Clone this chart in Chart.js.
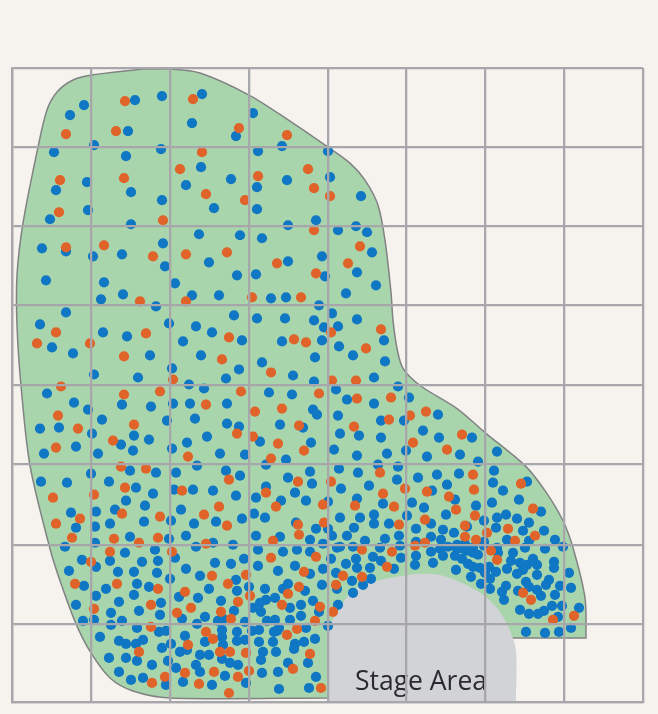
<!DOCTYPE html>
<html>
<head>
<meta charset="utf-8">
<title>Seating map</title>
<script src="https://cdn.jsdelivr.net/npm/chart.js@4/dist/chart.umd.min.js"></script>
<style>
  html, body { margin: 0; padding: 0; background: #f6f3ef; }
  canvas { display: block; }
</style>
</head>
<body>
<canvas id="seatChart" width="658" height="714"></canvas>
<script>
// seat positions, origin at the bottom left of the grid
const blueSeats = [
  [72,596],[58,586],[123,601],[150,605],[190,607],[180,578],[116,570],[82,556],[42,549],[114,545],[149,552],[189,534],[174,516],[75,519],[44,511],[119,509],[150,501],[76,491],[38,482],[119,477],
  [241,588],[224,565],[246,550],[270,555],[316,550],[219,522],[245,514],[275,521],[318,524],[349,505],[202,493],[245,492],[276,476],[304,481],[326,471],[344,475],[355,469],
  [30,453],[54,450],[81,445],[110,447],[151,458],[187,467],[153,435],[197,439],[34,421],[92,419],[163,418],[89,402],[111,407],[180,406],[144,395],[54,389],[28,377],[157,378],[184,375],[91,369],[115,365],[171,360],[40,354],[61,348],[138,346],[189,346],[200,369],[82,327],[160,333],[126,324],[177,317],[192,313],[35,308],
  [228,466],[250,463],[360,449],[310,445],[276,440],[225,426],[244,427],[313,425],[345,429],[364,416],[334,408],[207,406],[259,403],[274,404],[307,396],[320,388],[222,386],[245,383],[273,383],[302,381],[345,382],[326,375],[312,374],[230,361],[270,360],[310,361],[372,361],[327,355],[341,346],[303,344],[373,340],[250,339],[227,332],[214,323],[281,326],[302,320],[362,324],[386,315],[257,309],[280,307],[324,312],[397,304],
  [62,299],[76,292],[110,297],[139,295],[161,298],[178,298],[90,282],[155,281],[183,283],[28,273],[47,274],[80,268],[122,266],[137,262],[195,265],[109,257],[175,259],[121,251],[160,253],[64,255],[32,248],[86,248],[185,236],[118,231],[144,229],[164,229],[79,228],[29,220],[55,219],[97,220],[124,214],[162,212],[181,212],[141,208],[114,201],[133,196],[169,192],[103,192],[84,190],[59,189],[159,181],[132,180],[182,178],[98,178],[64,174],[83,175],[118,165],[174,166],[157,163],[83,159],[53,155],[184,155],[143,152],[113,149],
  [335,302],[362,298],[215,298],[301,292],[305,287],[326,286],[369,281],[215,278],[227,275],[268,277],[291,274],[328,268],[347,266],[369,264],[248,260],[299,259],[322,252],[345,246],[375,248],[208,248],[233,247],[274,242],[254,237],[366,237],[386,235],[327,233],[346,229],[214,231],[228,226],[298,230],[276,224],[300,218],[385,222],[254,215],[329,213],[357,216],[283,209],[201,211],[224,206],[244,204],[294,201],[269,201],[316,200],[345,203],[371,198],[242,188],[253,184],[204,180],[230,183],[328,184],[348,184],[362,187],[362,178],[377,178],[284,179],[304,173],[316,173],[342,174],[320,166],[335,166],[373,163],[244,166],[268,165],[298,162],[311,158],[353,161],[387,166],[201,159],[221,157],[246,152],[285,152],[328,155],[341,155],[368,154],[388,156],[271,150],
  [426,287],[392,281],[411,271],[427,264],[460,264],[485,250],[394,251],[415,245],[448,247],[466,240],[482,231],[425,227],[447,228],[406,224],[481,219],[515,220],[435,217],[420,211],[491,211],[443,202],[507,202],[400,199],[480,199],[412,194],[464,196],[529,190],[434,187],[395,186],[494,187],[485,184],[472,181],[505,183],[419,178],[517,179],[455,175],[404,173],[431,172],[442,169],[484,174],[511,171],[532,171],[419,165],[543,162],[429,162],[495,162],[404,160],[517,161],[472,160],[551,155],[513,154],[533,153],[485,154],
  [445,157],[453,158],[436,155],[428,153],[461,154],[404,146],[403,137],[419,150],[421,139],[431,146],[443,146],[450,143],[455,151],[461,149],[466,147],[451,153],[445,153],[456,138],[461,135],[468,134],[477,135],[484,130],[478,123],[473,129],[444,132],[459,125],[469,118],[478,113],[472,156],[486,149],[501,149],[499,141],[495,133],[508,139],[515,137],[511,132],[505,128],[521,143],[525,137],[525,127],[542,140],[542,134],[557,129],[537,122],[534,117],[514,120],[517,115],[525,112],[529,106],[548,116],[559,114],[543,107],[494,116],[490,110],[492,102],[506,111],[567,94],[550,96],[540,96],[532,91],[526,88],[517,88],[508,92],[546,85],[559,74],[547,70],[533,69],[514,70],
  [70,142],[84,135],[98,141],[130,140],[146,141],[163,144],[203,139],[219,138],[57,131],[106,130],[122,130],[145,129],[174,133],[188,126],[158,123],[72,116],[125,118],[94,113],[137,115],[197,113],[224,122],[225,111],[84,106],[122,107],[167,105],[186,104],[107,100],[149,99],[209,101],[64,97],[127,91],[99,89],[148,87],[222,91],[193,85],[170,83],[206,81],[211,83],[71,81],[82,82],[110,81],[99,77],[185,78],[125,74],[147,70],[154,71],[210,72],[225,70],[88,65],[173,66],[210,65],[107,61],[114,58],[124,58],[131,62],[193,60],[225,61],[159,58],[211,57],[150,54],[168,50],[175,52],[188,47],[197,47],[97,44],[114,44],[125,41],[210,43],[218,39],[226,37],[156,41],[140,37],[184,37],[164,34],[188,30],[107,30],[213,26],[131,24],[119,22],[171,20],[200,17],[154,17],
  [298,150],[319,143],[334,138],[344,143],[361,145],[369,141],[389,144],[325,154],[232,143],[246,136],[283,136],[266,131],[298,128],[311,133],[345,134],[358,134],[382,133],[324,129],[340,121],[359,123],[351,117],[310,117],[325,113],[237,115],[276,118],[271,113],[293,111],[253,113],[263,104],[341,109],[254,102],[248,99],[301,101],[289,97],[278,94],[241,94],[249,90],[307,90],[326,97],[289,86],[263,82],[255,81],[278,82],[233,80],[316,76],[294,74],[267,74],[265,71],[262,70],[247,72],[240,71],[233,62],[247,60],[261,60],[303,63],[292,60],[283,58],[282,53],[251,50],[264,50],[249,42],[276,39],[296,39],[250,29],[266,30],[304,25],[234,19],[267,13],[297,14]
];

const orangeSeats = [
  [113,600],[181,602],[54,567],[104,570],[190,549],[168,532],[48,521],[112,523],[194,507],[47,489],[151,481],
  [227,573],[275,566],[296,532],[246,525],[302,513],[318,505],[233,501],[302,471],
  [54,454],[92,456],[141,445],[174,447],[128,400],[174,400],[44,369],[134,368],[25,358],[78,358],[112,345],[161,322],[49,315],[112,307],[148,310],
  [348,455],[215,449],[265,438],[336,438],[304,428],[240,404],[289,404],[369,372],[319,369],[217,364],[282,362],[294,359],[354,353],[210,342],[259,329],[320,321],[344,321],[229,310],[307,308],[379,304],
  [194,297],[46,286],[66,273],[122,277],[101,261],[44,254],[176,245],[109,235],[134,233],[113,214],[170,211],[82,207],[41,204],[110,188],[148,185],[68,183],[192,187],[44,178],[60,164],[102,163],[146,164],[127,159],[194,158],[98,150],
  [345,303],[270,293],[243,290],[377,282],[287,276],[342,275],[225,268],[241,265],[266,258],[292,251],[259,243],[368,229],[217,222],[286,220],[319,220],[254,209],[371,208],[343,196],[311,197],[264,195],[382,195],[207,195],[215,176],[286,177],[312,179],[387,177],[287,167],[261,161],[350,152],[380,150],
  [414,290],[398,286],[401,259],[450,267],[435,252],[461,227],[462,212],[393,213],[415,210],[437,205],[509,218],[444,192],[521,193],[463,186],[413,182],[453,176],[475,169],[496,173],[453,165],[523,166],[464,162],[503,161],[413,159],[403,156],[479,151],
  [485,142],[511,109],[519,102],[562,86],[541,82],
  [160,150],[79,140],[200,126],[105,118],[63,118],[216,118],[146,113],[173,110],[226,100],[139,97],[82,93],[179,94],[165,89],[209,90],[219,83],[139,75],[194,70],[201,63],[176,57],[208,50],[218,50],[127,50],[173,29],[202,30],[226,25],[153,25],[140,19],[187,18],[217,9],
  [259,144],[304,145],[375,135],[292,130],[234,127],[331,126],[350,125],[324,117],[287,115],[276,108],[238,106],[270,97],[308,95],[321,90],[303,81],[285,73],[275,67],[234,49],[298,48],[281,33],[237,31],[309,14]
];

const seatingOutline = [
  [131,632],[158,632],[188,628],[237,606],[278,580],[316,554],[338,538],[353,521],[366,496],[373,461],[379,409],[381,381],[385,353],[391,333],[408,316],[445,293],[473,269],[513,236],[533,211],[551,181],[561,154],[573,104],[574,64],[574,64],
  [501,64],[501,64],[316,4],[316,4],[158,4],[121,11],[98,24],[79,49],[64,78],[48,121],[38,153],[18,236],[9,316],[5,376],[5,426],[11,478],[26,554],[35,591],[45,609],[61,621],[80,626],[131,632]
];

const stageOutline = [
  [316,0],[316,0],[316,40],[316,71],[325,89],[341,111],[365,121],[391,126],[408,128],[431,126],[465,111],[485,94],[498,71],[504,51],[504,0],[504,0]
];

const stageLabel = 'Stage Area';
const stageLabelPos = [409, 12];
const xTicks = [0, 79, 158, 237, 316, 394, 473, 552, 631];
const yTicks = [0, 78, 157, 237, 316, 396, 475, 554, 633];

const GRID = '#a7a7ab';
const toPoints = list => list.map(([x, y]) => ({ x, y }));

// label sits above the shapes but under the grid lines
const labelPlugin = {
  id: 'stageLabel',
  afterDatasetsDraw(chart) {
    const { ctx, scales } = chart;
    ctx.save();
    ctx.font = '26.5px "Open Sans"';
    ctx.fillStyle = '#2a2a30';
    ctx.textAlign = 'center';
    ctx.textBaseline = 'alphabetic';
    ctx.fillText(stageLabel, scales.x.getPixelForValue(stageLabelPos[0]), scales.y.getPixelForValue(stageLabelPos[1]));
    ctx.restore();
  }
};

const axis = (max, ticks) => ({
  type: 'linear',
  min: 0,
  max,
  afterBuildTicks: scale => { scale.ticks = ticks.map(value => ({ value })); },
  ticks: { display: false },
  grid: { color: GRID, lineWidth: 2.3, drawTicks: false, z: 1 },
  border: { color: GRID, width: 2.3, z: 1 }
});

new Chart(document.getElementById('seatChart'), {
  type: 'scatter',
  data: {
    datasets: [
      { data: toPoints(orangeSeats), backgroundColor: '#e06329', pointRadius: 5.1, borderWidth: 0, pointBorderWidth: 0, order: 1 },
      { data: toPoints(blueSeats), backgroundColor: '#0f77c3', pointRadius: 5.1, borderWidth: 0, pointBorderWidth: 0, order: 2 },
      { data: toPoints(stageOutline), showLine: true, fill: 'shape', backgroundColor: '#d2d3d6', borderWidth: 0, borderColor: 'transparent', pointRadius: 0, tension: 0.3, order: 3 },
      { data: toPoints(seatingOutline), showLine: true, fill: 'shape', backgroundColor: '#a9d5ac', borderColor: '#808284', borderWidth: 1.5, pointRadius: 0, tension: 0.3, order: 4 }
    ]
  },
  options: {
    responsive: false,
    animation: false,
    layout: { padding: { left: 12, right: 15, top: 68, bottom: 12 } },
    scales: { x: axis(631, xTicks), y: axis(633, yTicks) },
    plugins: { legend: { display: false }, tooltip: { enabled: false } }
  },
  plugins: [labelPlugin]
});
</script>
</body>
</html>
